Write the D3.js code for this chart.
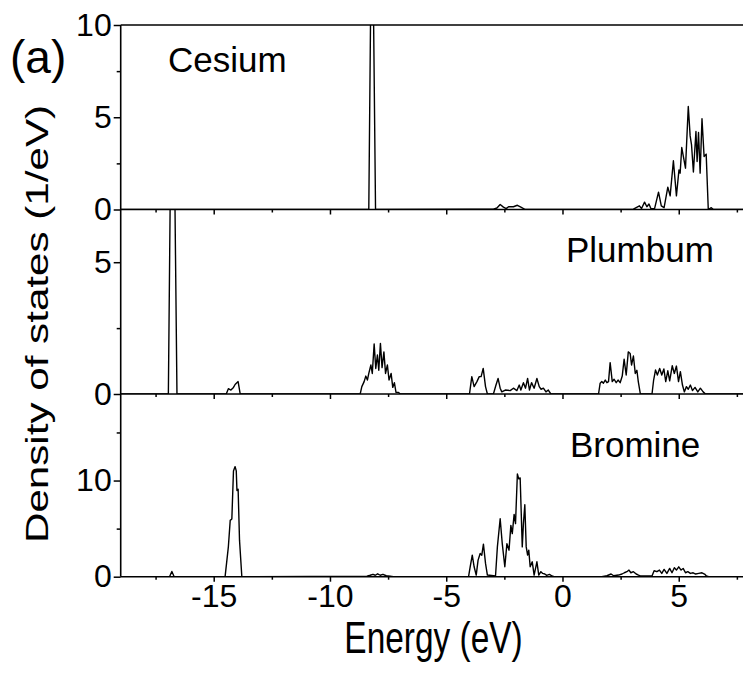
<!DOCTYPE html>
<html>
<head>
<meta charset="utf-8">
<script src="https://cdn.jsdelivr.net/npm/d3@7"></script>
<style>
  body { margin: 0; background: #fff; }
  svg text { font-family: "Liberation Sans", Arial, sans-serif; fill: #000; }
</style>
</head>
<body>
<svg id="chart" width="743" height="673"></svg>
<script>
// tick values
var energyTicks = [-15, -10, -5, 0, 5];
var energyMinor = [-17.5, -12.5, -7.5, -2.5, 2.5, 7.5];

var panelNames = ['Cesium', 'Plumbum', 'Bromine'];
var panelMax = [10, 7, 19];
var panelMajor = [[0, 5, 10], [0, 5], [0, 10]];
var panelMinor = [[2.5, 7.5], [2.5], [5, 15]];

// density of states, [energy eV, states 1/eV]
var cesiumDos = [
  [-8.33, 0], [-8.25, 11], [-8.13, 11], [-8.04, 0],
  [-3.97, 0.02], [-2.97, 0.02], [-2.82, 0.08], [-2.68, 0.27], [-2.54, 0.13], [-2.42, 0.05],
  [-2.32, 0.15], [-2.11, 0.15], [-1.94, 0.23], [-1.79, 0.13], [-1.6, 0],
  [2.48, 0], [3.05, 0.02], [3.31, 0.2], [3.4, 0.05], [3.53, 0.4], [3.63, 0.15], [3.72, 0.3],
  [3.8, 0.05], [3.96, 0.05], [4.13, 0.94], [4.25, 0.2], [4.37, 0.1], [4.53, 1.21], [4.63, 0.74],
  [4.77, 2.64], [4.9, 0.74], [5.01, 2.15], [5.06, 1.97], [5.13, 3.36], [5.2, 2.87], [5.29, 2.24],
  [5.41, 5.58], [5.49, 3.99], [5.55, 3.5], [5.63, 2.03], [5.74, 4.23], [5.79, 2.6], [5.85, 4.17],
  [5.92, 1.97], [6.0, 4.92], [6.09, 2.87], [6.18, 3.0], [6.27, 0], [6.4, 0.1], [6.49, 0]
];

var plumbumDos = [
  [-16.95, 0], [-16.87, 7.5], [-16.67, 7.5], [-16.58, 0],
  [-14.46, 0], [-14.37, 0.2], [-14.26, 0.15], [-14.15, 0.25], [-14.08, 0.36], [-13.95, 0.47], [-13.86, 0],
  [-8.7, 0], [-8.63, 0.28], [-8.53, 0.47], [-8.46, 0.68], [-8.39, 0.53], [-8.33, 0.78], [-8.24, 1.1],
  [-8.18, 0.78], [-8.1, 1.9], [-8.03, 0.97], [-7.96, 1.48], [-7.9, 0.9], [-7.83, 1.92], [-7.76, 1.0],
  [-7.68, 1.6], [-7.61, 0.78], [-7.53, 1.1], [-7.46, 0.53], [-7.37, 0.78], [-7.3, 0.25], [-7.23, 0.43],
  [-7.16, 0.06], [-7.05, 0.06], [-6.98, 0],
  [-4.0, 0], [-3.9, 0.66], [-3.8, 0.28], [-3.68, 0.47], [-3.58, 0.66], [-3.5, 0.66], [-3.41, 0.97],
  [-3.31, 0.28], [-3.23, 0], [-2.97, 0], [-2.86, 0.34], [-2.77, 0.59], [-2.68, 0.22], [-2.61, 0.08],
  [-2.46, 0.15], [-2.25, 0.13], [-2.11, 0.22], [-1.96, 0.13], [-1.86, 0.34], [-1.79, 0.15], [-1.68, 0.43],
  [-1.59, 0.22], [-1.5, 0.59], [-1.42, 0.15], [-1.33, 0.43], [-1.22, 0.22], [-1.1, 0.59], [-1.0, 0.28],
  [-0.92, 0.18], [-0.82, 0.22], [-0.71, 0.08], [-0.61, 0.15], [-0.5, 0],
  [1.55, 0], [1.62, 0.41], [1.69, 0.47], [1.76, 0.41], [1.84, 0.53], [1.91, 0.43], [1.98, 0.47],
  [2.05, 1.19], [2.14, 0.47], [2.22, 0.56], [2.31, 0.43], [2.39, 0.53], [2.48, 0.43], [2.57, 0.68],
  [2.65, 1.32], [2.74, 0.72], [2.83, 1.6], [2.91, 1.54], [2.97, 1.1], [3.05, 1.44], [3.13, 0.78],
  [3.2, 0.9], [3.26, 0.47], [3.35, 0], [3.85, 0], [3.92, 0.53], [4.0, 0.91], [4.08, 0.72], [4.18, 0.97],
  [4.27, 0.72], [4.36, 0.95], [4.44, 0.47], [4.53, 0.88], [4.61, 0.5], [4.72, 1.07], [4.81, 0.78],
  [4.9, 1.06], [4.99, 0.47], [5.07, 0.85], [5.16, 0.34], [5.24, 0.08], [5.33, 0.28], [5.41, 0.18],
  [5.5, 0.34], [5.59, 0.13], [5.7, 0.25], [5.82, 0.08], [5.93, 0.22], [6.05, 0.08], [6.15, 0]
];

var bromineDos = [
  [-16.9, 0], [-16.8, 0.55], [-16.7, 0],
  [-14.51, 0], [-14.37, 3.1], [-14.29, 5.86], [-14.22, 6.0], [-14.15, 11.0], [-14.08, 11.45],
  [-14.03, 11.0], [-14.0, 8.97], [-13.95, 9.1], [-13.89, 3.8], [-13.79, 0],
  [-8.41, 0.05], [-8.27, 0.15], [-8.15, 0.25], [-8.05, 0.15], [-7.95, 0.3], [-7.84, 0.15],
  [-7.72, 0.25], [-7.58, 0.1], [-7.41, 0.05], [-7.27, 0],
  [-4.04, 0], [-3.97, 1.03], [-3.88, 2.24], [-3.8, 1.03], [-3.71, 0.17], [-3.63, 1.72], [-3.54, 2.42],
  [-3.47, 2.24], [-3.4, 3.38], [-3.31, 1.38], [-3.23, 0.17], [-2.88, 0.07], [-2.8, 3.1], [-2.68, 6.03],
  [-2.59, 3.44], [-2.48, 1.03], [-2.39, 3.44], [-2.3, 2.76], [-2.22, 5.34], [-2.16, 4.48], [-2.08, 6.48],
  [-2.02, 5.52], [-1.94, 10.69], [-1.88, 10.17], [-1.82, 10.27], [-1.73, 3.1], [-1.68, 5.52],
  [-1.62, 7.48], [-1.56, 3.1], [-1.5, 2.24], [-1.45, 2.76], [-1.39, 1.03], [-1.3, 1.55], [-1.22, 0.17],
  [-1.1, 1.55], [-1.02, 0.17], [-0.93, 0.52], [-0.85, 0.34], [-0.76, 0.28], [-0.68, 0.14],
  [-0.56, 0.24], [-0.45, 0.07], [-0.36, 0],
  [1.69, 0], [1.91, 0.1], [2.09, 0.28], [2.2, 0.1], [2.41, 0.17], [2.56, 0.28], [2.66, 0.41],
  [2.77, 0.52], [2.86, 0.69], [2.94, 0.41], [3.05, 0.52], [3.17, 0.28], [3.27, 0.17], [3.37, 0.07],
  [3.85, 0.07], [3.94, 0.62], [4.06, 0.52], [4.17, 0.69], [4.27, 0.34], [4.37, 0.76], [4.49, 0.34],
  [4.61, 0.86], [4.71, 0.41], [4.81, 0.93], [4.9, 0.69], [5.0, 1.03], [5.1, 0.69], [5.19, 0.86],
  [5.29, 0.41], [5.39, 0.52], [5.5, 0.34], [5.62, 0.41], [5.73, 0.28], [5.86, 0.34], [6.0, 0.41],
  [6.11, 0.28], [6.19, 0.07], [6.29, 0]
];

var allDos = [cesiumDos, plumbumDos, bromineDos];

// layout
var left = 120.7, right = 748.5;
var panelTop = [25, 209.5, 394];
var panelBottom = [209.5, 394, 576.7];
var namePos = [[168, 72], [566, 262], [570, 457]];

var svg = d3.select('#chart');

var x = d3.scaleLinear().domain([-19, 8]).range([left, right]);

function styleAxis(g) {
  g.attr('font-size', null).attr('font-family', null);
  g.selectAll('line').attr('stroke', '#000').attr('stroke-width', 1.5);
  g.selectAll('text').attr('font-size', 32);
  g.select('.domain').remove();
}

panelNames.forEach(function (name, i) {
  var top = panelTop[i], bottom = panelBottom[i];
  var y = d3.scaleLinear().domain([0, panelMax[i]]).range([bottom, top]);

  svg.append('clipPath').attr('id', 'clip' + i)
    .append('rect')
    .attr('x', left).attr('y', top)
    .attr('width', right - left).attr('height', bottom - top);

  var line = d3.line()
    .x(function (d) { return x(d[0]); })
    .y(function (d) { return y(d[1]); });

  var pts = [[-19, 0]].concat(allDos[i]).concat([[8, 0]]);

  svg.append('path')
    .datum(pts)
    .attr('clip-path', 'url(#clip' + i + ')')
    .attr('fill', 'none')
    .attr('stroke', '#000')
    .attr('stroke-width', 1.4)
    .attr('stroke-linejoin', 'round')
    .attr('d', line);

  // x axis at the bottom of each panel
  var xg = svg.append('g').attr('transform', 'translate(0,' + bottom + ')')
    .call(d3.axisBottom(x).tickValues(energyTicks).tickSize(5).tickPadding(3)
      .tickFormat(function (d) { return i == 2 ? String(d) : ''; }));
  styleAxis(xg);
  var xm = svg.append('g').attr('transform', 'translate(0,' + bottom + ')')
    .call(d3.axisBottom(x).tickValues(energyMinor).tickSize(3).tickFormat(''));
  styleAxis(xm);

  // y axis
  var yg = svg.append('g').attr('transform', 'translate(' + left + ',0)')
    .call(d3.axisLeft(y).tickValues(panelMajor[i]).tickSize(7).tickPadding(2)
      .tickFormat(function (d) { return String(d); }));
  styleAxis(yg);
  var ym = svg.append('g').attr('transform', 'translate(' + left + ',0)')
    .call(d3.axisLeft(y).tickValues(panelMinor[i]).tickSize(4).tickFormat(''));
  styleAxis(ym);

  svg.append('line')
    .attr('x1', left).attr('x2', right)
    .attr('y1', bottom).attr('y2', bottom)
    .attr('stroke', '#000').attr('stroke-width', 1.6);

  svg.append('text')
    .attr('x', namePos[i][0]).attr('y', namePos[i][1])
    .attr('font-size', 35)
    .text(name);
});

// frame
svg.append('line')
  .attr('x1', left).attr('x2', right).attr('y1', panelTop[0]).attr('y2', panelTop[0])
  .attr('stroke', '#000').attr('stroke-width', 1.6);
svg.append('line')
  .attr('x1', left).attr('x2', left).attr('y1', panelTop[0]).attr('y2', panelBottom[2])
  .attr('stroke', '#000').attr('stroke-width', 1.6);

svg.append('text')
  .attr('x', 10).attr('y', 73)
  .attr('font-size', 46)
  .text('(a)');

svg.append('text')
  .attr('transform', 'translate(433.5,653) scale(0.76,1)')
  .attr('text-anchor', 'middle')
  .attr('font-size', 44)
  .text('Energy (eV)');

svg.append('text')
  .attr('transform', 'translate(48,324) rotate(-90) scale(1.36,1)')
  .attr('text-anchor', 'middle')
  .attr('font-size', 31)
  .text('Density of states (1/eV)');
</script>
</body>
</html>
